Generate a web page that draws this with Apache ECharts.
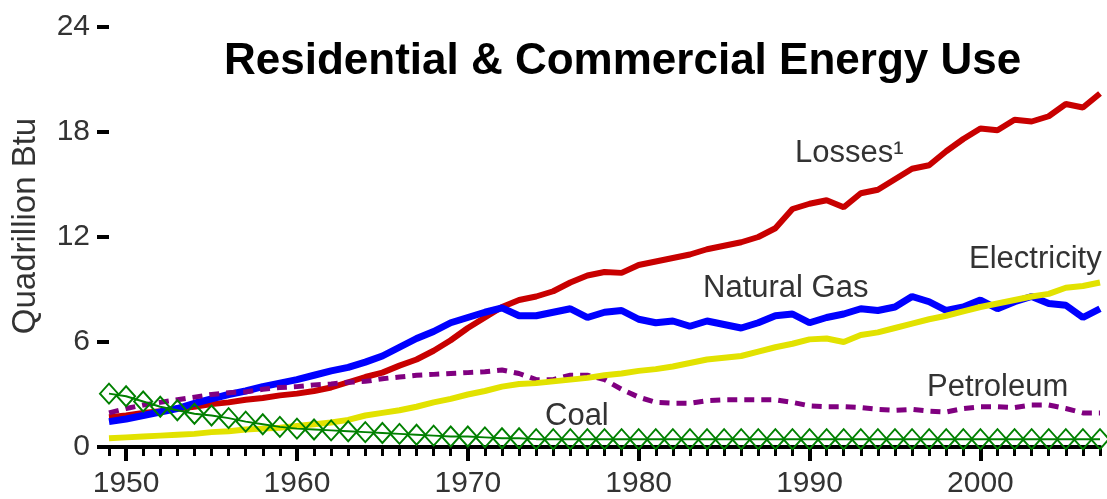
<!DOCTYPE html>
<html>
<head>
<meta charset="utf-8">
<title>Residential & Commercial Energy Use</title>
<script src="https://cdn.jsdelivr.net/npm/echarts@6/dist/echarts.min.js"></script>
<style>
    html, body { margin: 0; padding: 0; background: #fff; }
    #chart { width: 1107px; height: 499px; }
</style>
</head>
<body>
<div id="chart"></div>
<script>
// years 1949 - 2007
var years = [];
for (var y = 1949; y <= 2007; y++) {
    years.push(String(y));
}

// quadrillion Btu
var losses = [
    1.7, 1.8, 1.95, 2.05, 2.2, 2.3, 2.45, 2.55, 2.7, 2.8,
    2.95, 3.05, 3.2, 3.4, 3.7, 4.0, 4.25, 4.65, 5.0, 5.5,
    6.1, 6.8, 7.4, 8.0, 8.4, 8.6, 8.9, 9.4, 9.8, 10.0,
    9.95, 10.4, 10.6, 10.8, 11.0, 11.3, 11.5, 11.7, 12.0, 12.5,
    13.6, 13.9, 14.1, 13.7, 14.5, 14.7, 15.3, 15.9, 16.1, 16.9,
    17.6, 18.2, 18.1, 18.7, 18.6, 18.9, 19.6, 19.4, 20.2
];
var naturalGas = [
    1.45, 1.6, 1.8, 2.0, 2.2, 2.5, 2.75, 3.0, 3.2, 3.45,
    3.65, 3.85, 4.1, 4.35, 4.55, 4.85, 5.2, 5.7, 6.2, 6.6,
    7.1, 7.4, 7.7, 7.95, 7.5, 7.5, 7.7, 7.9, 7.4, 7.7,
    7.8, 7.3, 7.1, 7.2, 6.9, 7.2, 7.0, 6.8, 7.1, 7.5,
    7.6, 7.1, 7.4, 7.6, 7.9, 7.8, 8.0, 8.6, 8.3, 7.8,
    8.0, 8.4, 7.9, 8.3, 8.6, 8.2, 8.1, 7.4, 7.9
];
var electricity = [
    0.5, 0.55, 0.6, 0.65, 0.7, 0.75, 0.85, 0.9, 1.0, 1.05,
    1.1, 1.2, 1.3, 1.4, 1.55, 1.8, 1.95, 2.1, 2.3, 2.55,
    2.75, 3.0, 3.2, 3.45, 3.6, 3.65, 3.75, 3.85, 3.95, 4.1,
    4.2, 4.35, 4.45, 4.6, 4.8, 5.0, 5.1, 5.2, 5.45, 5.7,
    5.9, 6.15, 6.2, 6.0, 6.4, 6.55, 6.8, 7.05, 7.3, 7.5,
    7.75, 8.0, 8.2, 8.4, 8.6, 8.75, 9.1, 9.2, 9.4
];
var petroleum = [
    1.95, 2.2, 2.4, 2.55, 2.7, 2.85, 3.0, 3.1, 3.15, 3.3,
    3.4, 3.45, 3.55, 3.6, 3.7, 3.75, 3.9, 4.0, 4.1, 4.15,
    4.2, 4.25, 4.3, 4.4, 4.2, 3.85, 3.85, 4.1, 4.1, 3.85,
    3.3, 2.85, 2.55, 2.5, 2.5, 2.65, 2.7, 2.7, 2.7, 2.7,
    2.55, 2.35, 2.3, 2.3, 2.25, 2.15, 2.1, 2.15, 2.05, 2.0,
    2.2, 2.3, 2.3, 2.25, 2.4, 2.4, 2.2, 1.95, 1.95
];
var coal = [
    3.05, 2.9, 2.6, 2.3, 2.1, 1.9, 1.8, 1.65, 1.45, 1.3,
    1.15, 1.05, 1.0, 0.95, 0.9, 0.85, 0.8, 0.75, 0.7, 0.65,
    0.6, 0.6, 0.55, 0.5, 0.5, 0.45, 0.45, 0.45, 0.45, 0.45,
    0.45, 0.45, 0.45, 0.45, 0.45, 0.45, 0.45, 0.45, 0.45, 0.45,
    0.45, 0.45, 0.45, 0.45, 0.45, 0.45, 0.45, 0.45, 0.45, 0.45,
    0.45, 0.45, 0.45, 0.45, 0.45, 0.45, 0.45, 0.45, 0.45
];

var yTicks = [0, 6, 12, 18, 24];

var textFont = 'Liberation Sans, Arial, sans-serif';

var chart = echarts.init(document.getElementById('chart'));

function seriesLabel(text, x, y) {
    return {
        type: 'text',
        left: x,
        top: y,
        style: {
            text: text,
            fill: '#333',
            font: '31px ' + textFont
        }
    };
}

chart.setOption({
    animation: false,
    backgroundColor: '#fff',
    grid: {
        left: 109,
        right: 7,
        top: 27,
        bottom: 52,
        containLabel: false,
        outerBoundsMode: 'none'
    },
    xAxis: [{
        type: 'category',
        data: years,
        boundaryGap: false,
        axisLine: { lineStyle: { color: '#000', width: 4 } },
        axisTick: {
            interval: 0,
            length: 9,
            lineStyle: { color: '#000', width: 3 }
        },
        axisLabel: {
            interval: function (index, value) {
                return +value % 10 === 0;
            },
            margin: 22,
            color: '#333',
            fontSize: 30,
            fontFamily: textFont
        },
        splitLine: { show: false }
    }, {
        type: 'category',
        data: years,
        boundaryGap: false,
        position: 'bottom',
        axisLine: { show: false },
        axisTick: {
            interval: function (index, value) {
                return +value % 10 === 0;
            },
            length: 14,
            lineStyle: { color: '#000', width: 4 }
        },
        axisLabel: { show: false },
        splitLine: { show: false }
    }],
    yAxis: {
        type: 'value',
        min: yTicks[0],
        max: yTicks[yTicks.length - 1],
        interval: 6,
        name: 'Quadrillion Btu',
        nameLocation: 'middle',
        nameGap: 67,
        nameTextStyle: {
            color: '#333',
            fontSize: 33,
            fontFamily: textFont,
            padding: [0, 0, 0, 22]
        },
        axisLine: { show: false },
        axisTick: {
            show: true,
            length: 12,
            lineStyle: { color: '#000', width: 4 }
        },
        axisLabel: {
            margin: 19,
            color: '#333',
            fontSize: 30,
            fontFamily: textFont
        },
        splitLine: { show: false }
    },
    series: [{
        name: 'Losses',
        type: 'line',
        data: losses,
        symbol: 'none',
        lineStyle: { color: '#c80000', width: 6 }
    }, {
        name: 'Natural Gas',
        type: 'line',
        data: naturalGas,
        symbol: 'none',
        lineStyle: { color: '#0000ff', width: 7 }
    }, {
        name: 'Petroleum',
        type: 'line',
        data: petroleum,
        symbol: 'none',
        lineStyle: { color: '#800080', width: 5, type: [10, 7] }
    }, {
        name: 'Electricity',
        type: 'line',
        data: electricity,
        symbol: 'none',
        lineStyle: { color: '#e2e200', width: 6 }
    }, {
        name: 'Coal',
        type: 'line',
        data: coal,
        symbol: 'diamond',
        symbolSize: [18, 20],
        showAllSymbol: true,
        lineStyle: { color: '#008000', width: 2 },
        itemStyle: {
            color: 'rgba(0,0,0,0)',
            borderColor: '#008000',
            borderWidth: 2
        }
    }],
    graphic: [
        {
            type: 'text',
            left: 224,
            top: 40,
            style: {
                text: 'Residential & Commercial Energy Use',
                fill: '#000',
                font: 'bold 44px ' + textFont
            }
        },
        seriesLabel('Losses\u00b9', 795, 138),
        seriesLabel('Natural Gas', 703, 273),
        seriesLabel('Electricity', 969, 244),
        seriesLabel('Petroleum', 927, 372),
        seriesLabel('Coal', 545, 401)
    ]
});
</script>
</body>
</html>
